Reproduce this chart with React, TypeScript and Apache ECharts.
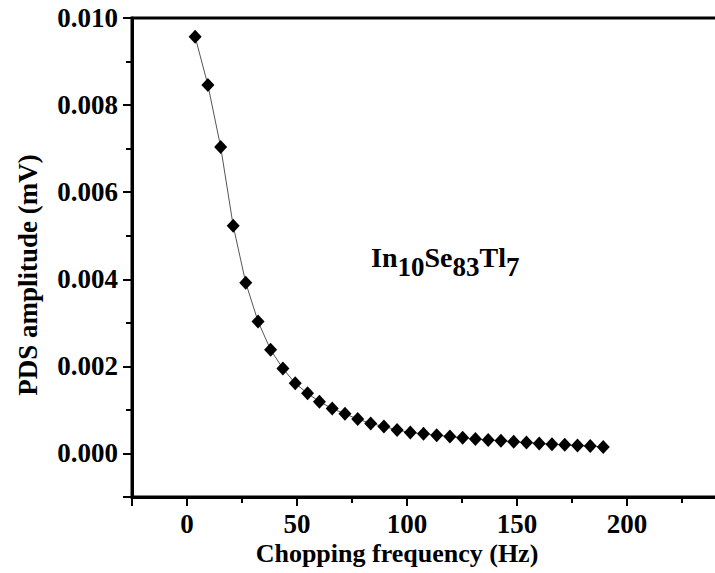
import React, { useEffect, useRef } from "react";
import * as echarts from "echarts";

const frequencyHz = [
  3.7, 9.5, 15.3, 21.0, 26.7, 32.3, 38.0, 43.6, 49.2, 54.8, 60.2, 66.0, 71.8,
  77.6, 83.5, 89.5, 95.5, 101.5, 107.5, 113.5, 119.5, 125.3, 131.1, 136.9,
  142.7, 148.5, 154.3, 160.1, 165.9, 171.7, 177.5, 183.3, 189.2,
];
const amplitudeMv = [
  0.00957, 0.00846, 0.00704, 0.00523, 0.00392, 0.00303, 0.00238, 0.00195,
  0.00161, 0.00138, 0.00119, 0.00103, 0.00091, 0.00079, 0.00069, 0.00062,
  0.00054, 0.00048, 0.00045, 0.00042, 0.00039, 0.00036, 0.00033, 0.00031,
  0.00029, 0.00027, 0.00025, 0.00023, 0.00021, 0.0002, 0.00018, 0.00017,
  0.00015,
];
const xTitle = "Chopping frequency (Hz)";
const yTitle = "PDS amplitude (mV)";

const FONT = "'Liberation Serif', 'Times New Roman', serif";
const CHART_W = 740;
const CHART_H = 573;

export default function App() {
  const ref = useRef<HTMLDivElement>(null);
  useEffect(() => {
    if (!ref.current) return;
    const chart = echarts.init(ref.current, undefined, { renderer: "svg" });
    const labelStyle = {
      fontFamily: FONT,
      fontWeight: "bold" as const,
      fontSize: 27,
      color: "#000",
    };
    chart.setOption({
      animation: false,
      backgroundColor: "#fff",
      grid: {
        left: 132,
        top: 18,
        right: CHART_W - 726,
        bottom: CHART_H - 497,
        show: true,
        borderColor: "#000",
        borderWidth: 3,
        containLabel: false,
      },
      xAxis: [
        {
          type: "value",
          min: -25,
          max: 245,
          axisLine: { show: true, onZero: false, lineStyle: { color: "#000", width: 3 } },
          axisTick: { show: true, inside: false, length: 9, lineStyle: { color: "#000", width: 2 } },
          splitLine: { show: false },
          axisLabel: {
            ...labelStyle,
            margin: 13,
            formatter: (v: number) => (v < 0 || v > 200 ? "" : String(Math.round(v))),
          },
        },
        {
          type: "value",
          position: "bottom",
          min: -25,
          max: 245,
          interval: 25,
          axisLine: { show: false, onZero: false },
          axisTick: { show: true, length: 6, lineStyle: { color: "#000", width: 2 } },
          axisLabel: { show: false },
          splitLine: { show: false },
        },
      ],
      yAxis: [
        {
          type: "value",
          min: -0.001,
          max: 0.01,
          axisLine: { show: true, onZero: false, lineStyle: { color: "#000", width: 3 } },
          axisTick: { show: true, length: 9, lineStyle: { color: "#000", width: 2 } },
          splitLine: { show: false },
          axisLabel: {
            ...labelStyle,
            margin: 14,
            formatter: (v: number) => (v < -1e-9 ? "" : v.toFixed(3)),
          },
        },
        {
          type: "value",
          position: "left",
          min: -0.001,
          max: 0.01,
          interval: 0.001,
          axisLine: { show: false, onZero: false },
          axisTick: { show: true, length: 6, lineStyle: { color: "#000", width: 2 } },
          axisLabel: { show: false },
          splitLine: { show: false },
        },
      ],
      series: [
        {
          type: "line",
          xAxisIndex: 0,
          yAxisIndex: 0,
          data: frequencyHz.map((f, i) => [f, amplitudeMv[i]]),
          symbol: "diamond",
          symbolSize: [13, 14],
          itemStyle: { color: "#000" },
          lineStyle: { color: "#555", width: 1 },
          showSymbol: true,
        },
      ],
      graphic: [
        {
          type: "text",
          x: 397,
          y: 553,
          style: {
            text: xTitle,
            font: `bold 26px ${FONT}`,
            fill: "#000",
            align: "center",
            verticalAlign: "middle",
          },
        },
        {
          type: "text",
          x: 28,
          y: 275,
          rotation: Math.PI / 2,
          style: {
            text: yTitle,
            font: `bold 27px ${FONT}`,
            fill: "#000",
            align: "center",
            verticalAlign: "middle",
          },
        },
        {
          type: "text",
          x: 371,
          y: 262,
          style: {
            text: "{m|In}{s|10}{m|Se}{s|83}{m|Tl}{s|7}",
            fill: "#000",
            align: "left",
            verticalAlign: "middle",
            rich: {
              m: { font: `bold 28px ${FONT}`, fill: "#000", padding: [0, 0, 10, 0] },
              s: { font: `bold 27px ${FONT}`, fill: "#000", padding: [10, 0, 0, 0] },
            },
          },
        },
      ],
    });
    return () => chart.dispose();
  }, []);
  return (
    <div
      style={{
        position: "absolute",
        left: 0,
        top: 0,
        width: 715,
        height: 573,
        overflow: "hidden",
        background: "#fff",
      }}
    >
      <div ref={ref} style={{ width: CHART_W, height: CHART_H }} />
    </div>
  );
}
